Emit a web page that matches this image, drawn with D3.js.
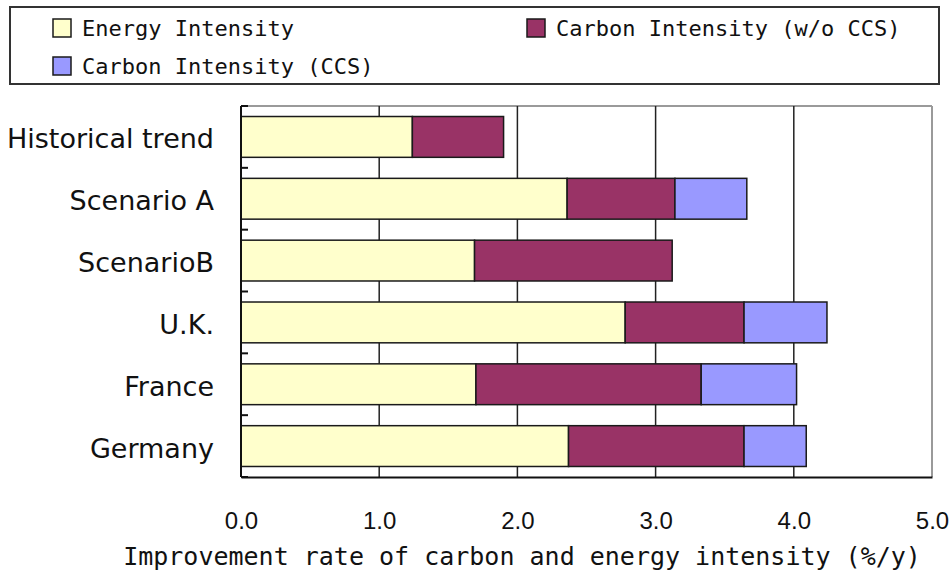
<!DOCTYPE html>
<html>
<head>
<meta charset="utf-8">
<script src="https://cdn.jsdelivr.net/npm/d3@7"></script>
<style>
  html, body { margin: 0; padding: 0; background: #fff; }
  svg { display: block; }
</style>
</head>
<body>
<svg id="chart" width="949" height="583"></svg>
<script>
// ---- data ----
const categories = ["Historical trend", "Scenario A", "ScenarioB", "U.K.", "France", "Germany"];
const seriesNames = ["Energy Intensity", "Carbon Intensity (w/o CCS)", "Carbon Intensity (CCS)"];
const energyIntensity = [1.24, 2.36, 1.69, 2.78, 1.70, 2.37];
const carbonNoCCS     = [0.66, 0.78, 1.43, 0.86, 1.63, 1.27];
const carbonCCS       = [0.00, 0.52, 0.00, 0.60, 0.69, 0.45];
const xTicks = [0, 1, 2, 3, 4, 5];
const xLabel = "Improvement rate of carbon and energy intensity (%/y)";
const colors = ["#FFFFCC", "#993366", "#9999FF"];

// ---- layout ----
const svg = d3.select("#chart");
const L = 241, R = 932, T = 106, B = 477;

const x = d3.scaleLinear().domain([0, 5]).range([L, R]);
const y = d3.scaleBand().domain(categories).range([T, B])
  .paddingInner(0.34).paddingOuter(0.17);

const table = categories.map((c, i) => ({
  cat: c,
  [seriesNames[0]]: energyIntensity[i],
  [seriesNames[1]]: carbonNoCCS[i],
  [seriesNames[2]]: carbonCCS[i]
}));
const stacked = d3.stack().keys(seriesNames)(table);

// top and right border (gray)
svg.append("line").attr("x1", L).attr("x2", R).attr("y1", T).attr("y2", T)
  .attr("stroke", "#9a9a9a").attr("stroke-width", 2);
svg.append("line").attr("x1", R).attr("x2", R).attr("y1", T).attr("y2", B)
  .attr("stroke", "#9a9a9a").attr("stroke-width", 2);

// vertical gridlines
svg.append("g").selectAll("line").data(xTicks.filter(t => t > 0 && t < 5)).join("line")
  .attr("x1", d => x(d)).attr("x2", d => x(d))
  .attr("y1", T).attr("y2", B)
  .attr("stroke", "#222").attr("stroke-width", 1.5);

// bars
svg.append("g").selectAll("g").data(stacked).join("g")
  .attr("fill", (d, i) => colors[i])
  .selectAll("rect").data(d => d.filter(s => s[1] - s[0] > 0)).join("rect")
  .attr("x", d => x(d[0]))
  .attr("width", d => x(d[1]) - x(d[0]))
  .attr("y", d => y(d.data.cat))
  .attr("height", y.bandwidth())
  .attr("stroke", "#1a1a1a").attr("stroke-width", 1.5);

// bottom axis
const xAxis = d3.axisBottom(x).tickValues(xTicks).tickFormat(d3.format(".1f")).tickSize(0).tickPadding(35);
const gx = svg.append("g").attr("transform", `translate(0,${B})`).call(xAxis);
gx.select(".domain").attr("stroke", "#111").attr("stroke-width", 2);
gx.selectAll("text").attr("font-family", "'Liberation Sans', Arial, sans-serif")
  .attr("font-size", 24).attr("fill", "#111");

// left axis with inward ticks at band boundaries
svg.append("line").attr("x1", L).attr("x2", L).attr("y1", T).attr("y2", B)
  .attr("stroke", "#111").attr("stroke-width", 2);
const boundaries = d3.range(categories.length + 1).map(i => T + i * y.step());
svg.append("g").selectAll("line").data(boundaries).join("line")
  .attr("x1", L).attr("x2", L + 7)
  .attr("y1", d => d).attr("y2", d => d)
  .attr("stroke", "#111").attr("stroke-width", 2);

// category labels
svg.append("g").selectAll("text").data(categories).join("text")
  .attr("x", 214)
  .attr("y", d => y(d) + y.bandwidth() / 2 + 2)
  .attr("text-anchor", "end")
  .attr("dominant-baseline", "central")
  .attr("font-family", "'DejaVu Sans', sans-serif")
  .attr("font-size", 27)
  .attr("fill", "#111")
  .text(d => d);

// x label
svg.append("text")
  .attr("x", (132 + 912) / 2).attr("y", 556)
  .attr("text-anchor", "middle").attr("dominant-baseline", "central")
  .attr("font-family", "'DejaVu Sans Mono', monospace")
  .attr("font-size", 25).attr("fill", "#111")
  .text(xLabel);

// legend
const lg = svg.append("g");
lg.append("rect").attr("x", 10).attr("y", 7).attr("width", 929).attr("height", 77)
  .attr("fill", "#fff").attr("stroke", "#333").attr("stroke-width", 2);
const legendPos = [
  { sx: 53, sy: 19 },
  { sx: 527, sy: 19 },
  { sx: 53, sy: 57 }
];
const items = lg.selectAll("g.item").data(seriesNames).join("g").attr("class", "item");
items.append("rect")
  .attr("x", (d, i) => legendPos[i].sx).attr("y", (d, i) => legendPos[i].sy)
  .attr("width", 18).attr("height", 18)
  .attr("fill", (d, i) => colors[i]).attr("stroke", "#1a1a1a").attr("stroke-width", 1.5);
items.append("text")
  .attr("x", (d, i) => legendPos[i].sx + 29).attr("y", (d, i) => legendPos[i].sy + 9)
  .attr("dominant-baseline", "central")
  .attr("font-family", "'DejaVu Sans Mono', monospace")
  .attr("font-size", 22).attr("fill", "#111")
  .text(d => d);
</script>
</body>
</html>
